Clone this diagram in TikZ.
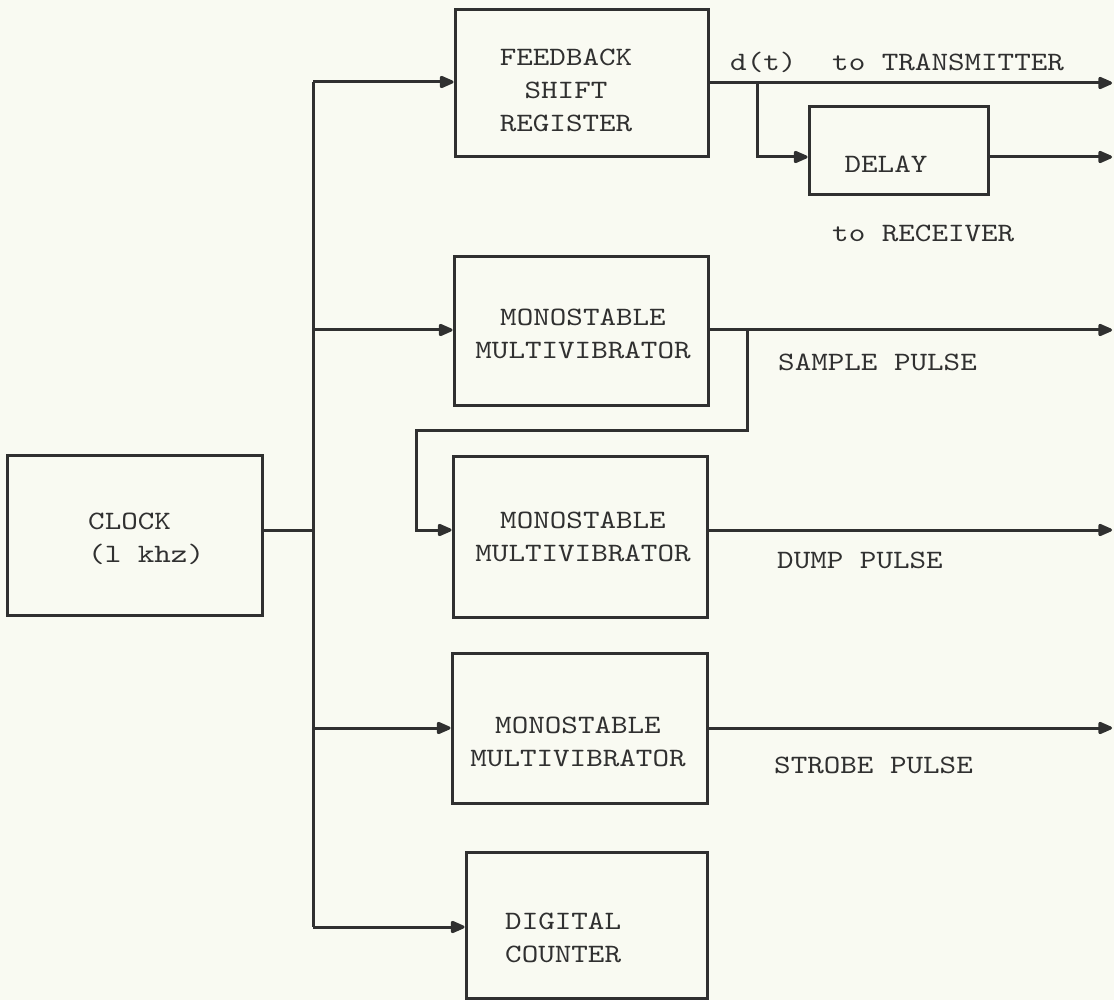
\documentclass[tikz,border=0pt]{standalone}
\usepackage{fontspec}
\setmonofont{lmmono10-regular.otf}[FakeStretch=1.19]
\usetikzlibrary{arrows.meta}
\definecolor{ink}{RGB}{48,48,48}
\definecolor{paper}{RGB}{249,250,242}
\begin{document}
\begin{tikzpicture}[x=1pt,y=-1pt,
  box/.style={draw=ink, line width=3pt, inner sep=0pt, rectangle},
  txt/.style={text=ink, inner sep=0pt, font=\ttfamily\fontsize{26.5}{33}\selectfont},
  wire/.style={draw=ink, line width=3pt},
  arr/.style={wire, -{Triangle[length=16pt,width=13pt,round]}}]
\fill[paper] (0,0) rectangle (1114,1000);
\useasboundingbox (0,0) rectangle (1114,1000);

% boxes
\node[box, minimum width=253pt, minimum height=147pt] (fsr) at (581.5,83.5) {};
\node[box, minimum width=179pt, minimum height=88pt] (dly) at (898.5,151) {};
\node[box, minimum width=254pt, minimum height=148pt] (m1) at (581,331) {};
\node[box, minimum width=254pt, minimum height=161pt] (m2) at (580,536.5) {};
\node[box, minimum width=255pt, minimum height=150pt] (m3) at (579.5,728) {};
\node[box, minimum width=241pt, minimum height=146pt] (cnt) at (586.5,925) {};
\node[box, minimum width=255pt, minimum height=160pt] (clk) at (134.5,535) {};

% box texts
\node[txt, align=center] (tfsr) at (566,90.5) {FEEDBACK\\SHIFT\\REGISTER};
\node[txt] (tdly) at (886,164) {DELAY};
\node[txt, align=center] (tm1) at (583,333.5) {MONOSTABLE\\MULTIVIBRATOR};
\node[txt, align=center] (tm2) at (583,536.5) {MONOSTABLE\\MULTIVIBRATOR};
\node[txt, align=center] (tm3) at (578,741.5) {MONOSTABLE\\MULTIVIBRATOR};
\node[txt, align=left, anchor=west] (tcnt) at (505,937.5) {DIGITAL\\COUNTER};
\node[txt, align=left, anchor=west] (tclk) at (88,539) {CLOCK\\(l khz)};

% labels
\node[txt, anchor=west] (ldt) at (730,62) {d(t)};
\node[txt, anchor=west] (ltx) at (832,62) {to TRANSMITTER};
\node[txt, anchor=west] (lrx) at (832,233) {to RECEIVER};
\node[txt, anchor=west] (lsp) at (778,362) {SAMPLE PULSE};
\node[txt, anchor=west] (ldp) at (777,560) {DUMP PULSE};
\node[txt, anchor=west] (lst) at (774,765) {STROBE PULSE};

% coordinates
\coordinate (btop) at (313,82);
\coordinate (bclk) at (313,530);
\coordinate (bm1) at (313,330);
\coordinate (bm3) at (313,728);
\coordinate (bcnt) at (313,927);
\coordinate (o1) at (1112,83);
\coordinate (o2) at (1112,157);
\coordinate (o3) at (1112,330);
\coordinate (o4) at (1112,530);
\coordinate (o5) at (1112,728);
\coordinate (j1) at (757,83);
\coordinate (j2) at (747,330);

% wires
\draw[wire] (clk.east |- bclk) -- (bclk);
\draw[wire] (btop) -- (bcnt);
\draw[arr] (btop) -- (fsr.west |- btop);
\draw[arr] (bm1) -- (m1.west |- bm1);
\draw[arr] (bm3) -- (m3.west |- bm3);
\draw[arr] (bcnt) -- (cnt.west |- bcnt);

\draw[arr] (fsr.east |- o1) -- (o1);
\draw[arr] (j1) |- (dly.west |- o2);
\draw[arr] (dly.east |- o2) -- (o2);

\draw[arr] (m1.east |- o3) -- (o3);
\draw[arr] (j2) -- (747,430) -- (416,430) |- (m2.west |- o4);
\draw[arr] (m2.east |- o4) -- (o4);
\draw[arr] (m3.east |- o5) -- (o5);
\end{tikzpicture}
\end{document}
